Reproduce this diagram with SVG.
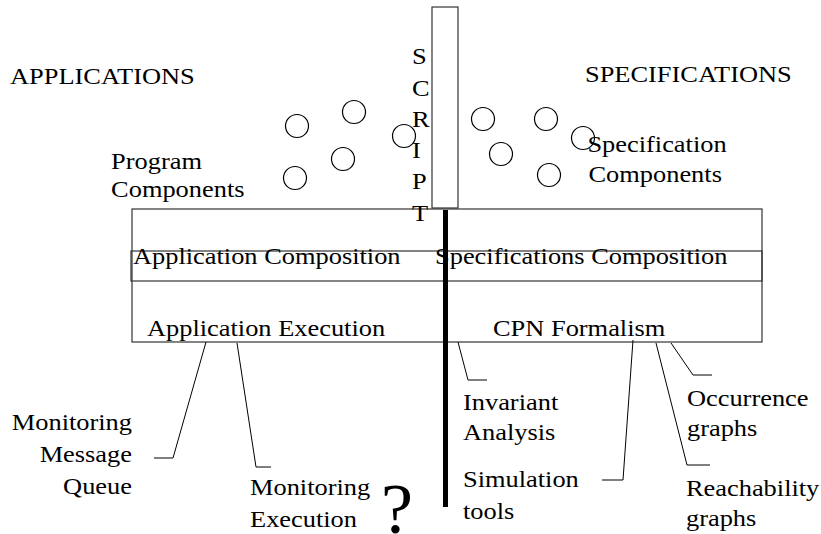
<svg xmlns="http://www.w3.org/2000/svg" width="821" height="534" viewBox="0 0 821 534">
<style>
  text { font-family: "Liberation Serif", "Times New Roman", serif; font-size: 24px; fill: #000; }
  .end { text-anchor: end; }
  .c { fill: none; stroke: #000; stroke-width: 1.2; }
  .ln { fill: none; stroke: #000; stroke-width: 1; }
  .box { fill: none; stroke: #333; stroke-width: 1.2; }
</style>
<rect width="821" height="534" fill="#fff"/>

<g id="layers">
  <rect class="box" x="132" y="209" width="630" height="133"/>
  <rect class="box" x="131" y="251" width="631" height="30" stroke="#000"/>
</g>

<g id="script">
  <rect class="box" x="432" y="7" width="26" height="201"/>
  <rect x="443" y="210" width="5" height="297" fill="#000"/>
</g>

<g id="program-circles">
  <circle class="c" cx="297" cy="126" r="11.5"/>
  <circle class="c" cx="354" cy="112" r="11.5"/>
  <circle class="c" cx="404" cy="136" r="11.5"/>
  <circle class="c" cx="343" cy="159" r="11.5"/>
  <circle class="c" cx="295" cy="178" r="11.5"/>
</g>
<g id="spec-circles">
  <circle class="c" cx="483" cy="119" r="11.5"/>
  <circle class="c" cx="546" cy="119" r="11.5"/>
  <circle class="c" cx="501" cy="154" r="11.5"/>
  <circle class="c" cx="583" cy="138" r="11.5"/>
  <circle class="c" cx="549" cy="175" r="11.5"/>
</g>

<g id="connectors">
  <polyline class="ln" points="206,342 173,458 154,458"/>
  <polyline class="ln" points="237,343 256,467 271,467"/>
  <polyline class="ln" points="458,342 468,380 487,380"/>
  <polyline class="ln" points="633,340 623,480 602,480"/>
  <polyline class="ln" points="656,343 687,465 710,465"/>
  <polyline class="ln" points="671,343 693,375 712,375"/>
</g>

<g transform="scale(1.1,1)">
  <g id="applications"><text x="9.1" y="84">APPLICATIONS</text></g>
  <g id="specifications"><text x="531.8" y="82">SPECIFICATIONS</text></g>
  <g id="program-components">
    <text x="101" y="169">Program</text>
    <text x="101" y="197">Components</text>
  </g>
  <g id="specification-components">
    <text x="534" y="152">Specification</text>
    <text x="535" y="182">Components</text>
  </g>
  <g id="script-label">
    <text x="374.5" y="64">S</text>
    <text x="374.5" y="96">C</text>
    <text x="374.5" y="127">R</text>
    <text x="374.5" y="158">I</text>
    <text x="374.5" y="189">P</text>
    <text x="374.5" y="221">T</text>
  </g>
  <g id="application-composition"><text x="120.9" y="264">Application Composition</text></g>
  <g id="specifications-composition"><text x="395.5" y="264">Specifications Composition</text></g>
  <g id="application-execution"><text x="133.6" y="336">Application Execution</text></g>
  <g id="cpn-formalism"><text x="448.2" y="336">CPN Formalism</text></g>
  <g id="monitoring-message-queue">
    <text class="end" x="120" y="430">Monitoring</text>
    <text class="end" x="120" y="462">Message</text>
    <text class="end" x="120" y="494">Queue</text>
  </g>
  <g id="monitoring-execution">
    <text x="227.3" y="495">Monitoring</text>
    <text x="227.3" y="527">Execution</text>
  </g>
  <g id="invariant-analysis">
    <text x="420.9" y="410">Invariant</text>
    <text x="420.9" y="440">Analysis</text>
  </g>
  <g id="simulation-tools">
    <text x="420.9" y="487">Simulation</text>
    <text x="420.9" y="519">tools</text>
  </g>
  <g id="occurrence-graphs">
    <text x="624.5" y="406">Occurrence</text>
    <text x="624.5" y="436">graphs</text>
  </g>
  <g id="reachability-graphs">
    <text x="623.6" y="496">Reachability</text>
    <text x="623.6" y="526">graphs</text>
  </g>
</g>
<g id="question"><text x="381" y="533" style="font-size:72px">?</text></g>
</svg>
